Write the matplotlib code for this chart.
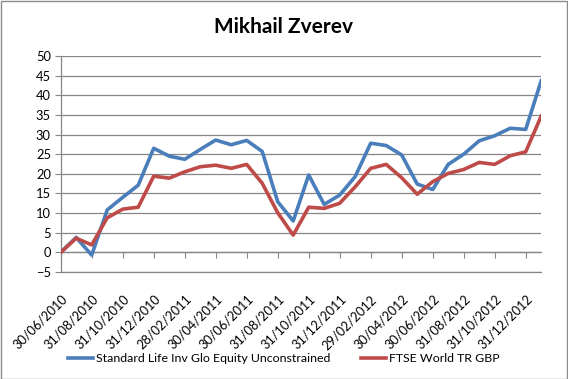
import matplotlib
matplotlib.use("Agg")
import matplotlib.pyplot as plt
from matplotlib.patches import Rectangle

plt.rcParams['font.family'] = ['Lato', 'DejaVu Sans']

dates = ["30/06/2010", "31/07/2010", "31/08/2010", "30/09/2010", "31/10/2010", "30/11/2010",
         "31/12/2010", "31/01/2011", "28/02/2011", "31/03/2011", "30/04/2011", "31/05/2011",
         "30/06/2011", "31/07/2011", "31/08/2011", "30/09/2011", "31/10/2011", "30/11/2011",
         "31/12/2011", "31/01/2012", "29/02/2012", "31/03/2012", "30/04/2012", "31/05/2012",
         "30/06/2012", "31/07/2012", "31/08/2012", "30/09/2012", "31/10/2012", "30/11/2012",
         "31/12/2012", "31/01/2013"]
fund = [0.0, 3.8, -0.7, 10.8, 14.0, 17.1, 26.5, 24.5, 23.7, 26.2, 28.6, 27.4, 28.5, 25.7,
        12.9, 8.0, 19.7, 12.2, 14.6, 19.3, 27.8, 27.2, 24.8, 17.4, 16.0, 22.4, 25.0, 28.4,
        29.7, 31.6, 31.3, 43.7]
index = [0.0, 3.6, 1.9, 8.8, 11.0, 11.5, 19.4, 18.9, 20.5, 21.8, 22.2, 21.4, 22.4, 17.6,
         10.1, 4.4, 11.5, 11.2, 12.5, 16.7, 21.4, 22.4, 19.0, 14.8, 18.0, 20.1, 21.1, 22.9,
         22.4, 24.6, 25.6, 34.7]
series_names = ["Standard Life Inv Glo Equity Unconstrained", "FTSE World TR GBP"]
title = "Mikhail Zverev"

W, H = 568, 379
fig = plt.figure(figsize=(W / 100, H / 100), dpi=100)
fig.patch.set_facecolor('white')
fig.patches.append(Rectangle((0.5 / W, 0.5 / H), 1 - 1.5 / W, 1 - 1.5 / H, transform=fig.transFigure,
                             fill=False, edgecolor='#8c8c8c', linewidth=1.0))

left, right, top, bottom = 60.7, 541.2, 56.0, 272.0
ax = fig.add_axes([left / W, 1 - bottom / H, (right - left) / W, (bottom - top) / H])

x = list(range(len(dates)))
grid_c = '#868686'
ax.plot(x, fund, color='#4A7EBB', lw=2.6, label=series_names[0], solid_joinstyle='round', zorder=3)
ax.plot(x, index, color='#BE4B48', lw=2.6, label=series_names[1], solid_joinstyle='round', zorder=3)

ax.set_xlim(0, len(dates) - 1)
ax.set_ylim(-5, 50)
ax.set_yticks(range(-5, 51, 5))
ax.yaxis.grid(True, color=grid_c, lw=0.9)
ax.set_axisbelow(True)
ax.tick_params(axis='y', length=4, color=grid_c, labelsize=9.3, pad=3)

for s in ['top', 'right']:
    ax.spines[s].set_visible(False)
ax.spines['left'].set_color(grid_c)
ax.spines['left'].set_linewidth(0.9)
ax.spines['bottom'].set_position(('data', 0))
ax.spines['bottom'].set_color(grid_c)
ax.spines['bottom'].set_linewidth(0.9)
tick_pos = x[::2]
ax.set_xticks(tick_pos)
ax.set_xticklabels([])
ax.tick_params(axis='x', length=4, color=grid_c, direction='out')

sec = ax.secondary_xaxis('bottom')
sec.set_xticks(tick_pos)
sec.set_xticklabels([dates[i] for i in tick_pos], rotation=45, ha='right',
                    rotation_mode='anchor', fontsize=9.2)
sec.tick_params(length=0, pad=15)
sec.spines['bottom'].set_color(grid_c)
sec.spines['bottom'].set_linewidth(0.9)

fig.text(283 / W, 1 - 27 / H, title, ha='center', va='center', fontsize=15, fontweight='bold')

fig.legend(loc='center', bbox_to_anchor=(0.5, 1 - 359 / H), ncol=2, frameon=False,
           fontsize=8.9, handlelength=2.0, handletextpad=0.25, columnspacing=2.5)

fig.savefig('out.png', dpi=100)
